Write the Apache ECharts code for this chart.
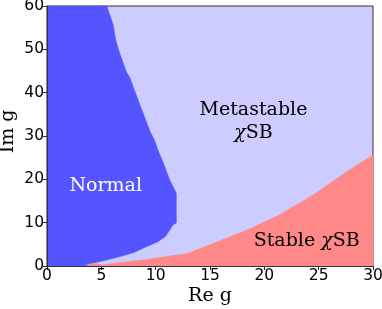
<!DOCTYPE html>
<html><head><meta charset="utf-8">
<script src="https://cdn.jsdelivr.net/npm/echarts@6/dist/echarts.min.js"></script>
<style>html,body{margin:0;padding:0;background:#fff}#c{width:382px;height:309px}</style>
</head><body><div id="c"></div>
<script>
// axis ranges / ticks
const xTicks = [0, 5, 10, 15, 20, 25, 30];
const yTicks = [0, 10, 20, 30, 40, 50, 60];
const xName = 'Re g', yName = 'Im g';

// Normal / Metastable boundary (Re g, Im g), from top of plot down to the real axis
const normalRe = [5.5, 6.1, 6.3, 6.6, 7.3, 7.6, 8.55, 9.5, 9.9, 10.2, 10.7, 11.3, 11.9, 11.9, 11.6, 11.3, 10.9, 10.2, 9.2, 8.0, 6.5, 5.0, 3.7, 3.4];
const normalIm = [60, 55.6, 52.5, 49.8, 44.8, 43.6, 37.2, 31.0, 29.0, 26.8, 23.8, 19.8, 16.8, 9.9, 9.5, 8.3, 6.8, 5.6, 4.5, 3.1, 2.0, 1.1, 0.4, 0];

// Stable / Metastable boundary (Re g, Im g)
const stableRe = [3.8, 4.0, 4.5, 4.9, 5.2, 5.6, 6.7, 8.25, 9.8, 11.3, 12.8, 15.3, 18.4, 21.4, 24.5, 27.6, 29.6, 30];
const stableIm = [0, 0.45, 0.6, 0.4, 0.2, 0.4, 0.8, 1.2, 1.75, 2.3, 2.8, 5.2, 8.3, 11.8, 16.4, 21.8, 25.0, 25.6];

// region labels (text, Re g, Im g)
const labelText = ['Normal', 'Metastable\n{i|χ}SB', 'Stable {i|χ}SB'];
const labelRe = [5.4, 19.0, 23.9];
const labelIm = [18.5, 33.4, 5.7];
const labelColor = ['#ffffff', '#000000', '#000000'];

const colNormal = '#5555ff', colMeta = '#ccccff', colStable = '#ff8888';
const xMin = xTicks[0], xMax = xTicks[xTicks.length - 1];
const yMin = yTicks[0], yMax = yTicks[yTicks.length - 1];

const chart = echarts.init(document.getElementById('c'), null, {renderer: 'canvas'});

function polyItem(pts, color) {
  return {type: 'polygon', shape: {points: pts}, style: {fill: color, stroke: color, lineWidth: 0.5}};
}
const nameFont = {fontFamily: 'DejaVu Serif', fontSize: 19, fill: '#000', align: 'center', verticalAlign: 'middle'};

chart.setOption({
  animation: false,
  grid: {left: 47, right: 9, top: 6, bottom: 43, containLabel: false, outerBoundsMode: 'none', show: true, backgroundColor: colMeta, borderColor: '#333', borderWidth: 1, z: 0},
  graphic: [
    {type: 'text', x: 210, y: 296.5, silent: true, style: Object.assign({text: xName}, nameFont)},
    {type: 'text', x: 8, y: 131.5, rotation: Math.PI / 2, silent: true, style: Object.assign({text: yName}, nameFont)}
  ],
  xAxis: {
    type: 'value', min: xMin, max: xMax, interval: 5,
    axisLine: {show: true, onZero: false, lineStyle: {color: '#333', width: 1}},
    axisTick: {show: true, length: 4, lineStyle: {color: '#333'}},
    axisLabel: {fontFamily: 'DejaVu Sans', fontSize: 15.5, color: '#000', margin: 2},
    splitLine: {show: false}, z: 10
  },
  yAxis: {
    type: 'value', min: yMin, max: yMax, interval: 10,
    axisLine: {show: true, onZero: false, lineStyle: {color: '#333', width: 1}},
    axisTick: {show: true, length: 4, lineStyle: {color: '#333'}},
    axisLabel: {fontFamily: 'DejaVu Sans', fontSize: 15.5, color: '#000', margin: 3},
    splitLine: {show: false}, z: 10
  },
  series: [
    {
      type: 'custom', data: [[0, 0]], z: 2, silent: true,
      renderItem: function (params, api) {
        const pts = [api.coord([xMin, yMax])];
        for (let i = 0; i < normalRe.length; i++) pts.push(api.coord([normalRe[i], normalIm[i]]));
        pts.push(api.coord([xMin, yMin]));
        return polyItem(pts, colNormal);
      }
    },
    {
      type: 'custom', data: [[0, 0]], z: 3, silent: true,
      renderItem: function (params, api) {
        const pts = [];
        for (let i = 0; i < stableRe.length; i++) pts.push(api.coord([stableRe[i], stableIm[i]]));
        pts.push(api.coord([xMax, yMin]));
        return polyItem(pts, colStable);
      }
    },
    {
      type: 'custom', data: labelText.map((t, i) => [labelRe[i], labelIm[i]]), z: 5, silent: true,
      renderItem: function (params, api) {
        const i = params.dataIndex;
        const p = api.coord([labelRe[i], labelIm[i]]);
        return {
          type: 'text', x: p[0], y: p[1],
          style: {
            text: labelText[i], fill: labelColor[i],
            fontFamily: 'DejaVu Serif', fontSize: 19, lineHeight: 23,
            align: 'center', verticalAlign: 'middle',
            rich: {i: {fontFamily: 'DejaVu Serif', fontStyle: 'italic', fontSize: 19, fill: labelColor[i], lineHeight: 23}}
          }
        };
      }
    }
  ]
});
</script></body></html>
